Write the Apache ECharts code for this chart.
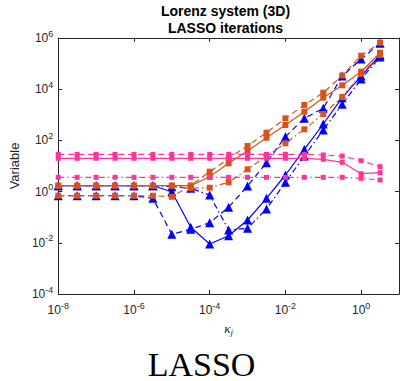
<!DOCTYPE html>
<html>
<head>
<meta charset="utf-8">
<script src="https://cdn.jsdelivr.net/npm/echarts@6/dist/echarts.min.js"></script>
<style>
html,body{margin:0;padding:0;background:#fff;}
#chart{width:403px;height:381px;}
</style>
</head>
<body>
<div id="chart"></div>
<script>
// kappa_j grid (half-decade steps)
const kappa = [1e-8, 3.162e-8, 1e-7, 3.162e-7, 1e-6, 3.162e-6, 1e-5, 3.162e-5, 1e-4, 3.162e-4,
               1e-3, 3.162e-3, 1e-2, 3.162e-2, 1e-1, 3.162e-1, 1, 3.162];

const blueSolid   = [1.7,1.7,1.7,1.7,1.7,1.7,0.99,0.0403,0.00897,0.0189,0.0777,0.547,4.45,44.9,437,4656,32700,216800];
const blueDashed  = [0.69,0.69,0.69,0.69,0.69,0.547,0.0215,0.0337,0.061,0.243,1.65,13.5,139,729,1795,32700,151000,621000];
const blueDashDot = [1.7,1.7,1.7,1.7,1.7,1.7,1.55,1.35,0.736,0.0316,0.0368,0.209,2.31,24.5,255,2570,25000,180700];

const orangeSolid   = [1.7,1.7,1.7,1.7,1.7,1.7,1.7,1.7,3.82,12.7,38.5,127,399,1321,4656,14190,48200,266000];
const orangeDashed  = [0.69,0.69,0.69,0.69,0.69,0.69,0.63,1.7,5.98,20,60.4,200,729,2410,7295,34280,203000,655000];
const orangeDashDot = [1.7,1.7,1.7,1.7,1.7,1.7,1.7,1.35,1.42,2.31,7.43,24.5,76.9,271,1074,4955,39200,216800];

const pinkSolid   = [20,20,20,20,20,20,20,20,20,20,20,20,20,20,18.2,13.9,5.0,5.47];
const pinkDashed  = [28.6,28.6,28.6,28.6,28.6,28.6,28.6,28.6,28.6,28.6,28.6,28.6,28.6,28.6,27,24.5,16.1,9.4];
const pinkDashDot = [3.61,3.61,3.61,3.61,3.61,3.61,3.61,3.61,3.61,3.61,3.61,3.61,3.61,3.61,3.61,3.61,3.3,2.84];

const titleLines = ['Lorenz system (3D)', 'LASSO iterations'];
const yName = 'Variable';
const caption = 'LASSO';

const BLUE = '#0000ff', ORANGE = '#d95319', PINK = '#ff3399';
const DASH = [6, 4], DASHDOT = [6, 3, 1.5, 3];

function mk(values, color, dash, symbol, size) {
  return {
    type: 'line',
    data: kappa.map((k, i) => [k, values[i]]),
    symbol: symbol, symbolSize: size,
    showSymbol: true,
    itemStyle: {color: color},
    lineStyle: {color: color, width: 1.2, type: dash},
    emphasis: {disabled: true},
    animation: false,
    z: 2
  };
}

function supFmt(v) {
  const e = Math.round(Math.log10(v));
  if (e % 2 !== 0) return '';
  return '{b|10}{s|' + e + '}';
}
const rich = {
  b: {fontSize: 12, fontFamily: 'Liberation Sans', color: '#262626'},
  s: {fontSize: 9, fontFamily: 'Liberation Sans', color: '#262626', padding: [0, 0, 9, 0]}
};
const axisCommon = {
  type: 'log', logBase: 10,
  axisLine: {show: true, lineStyle: {color: '#262626', width: 1}},
  axisTick: {show: true, inside: true, length: 4, lineStyle: {color: '#262626'}},
  splitLine: {show: false},
  minorTick: {show: false}
};

const chart = echarts.init(document.getElementById('chart'), null, {renderer: 'svg'});
chart.setOption({
  backgroundColor: '#fff',
  animation: false,
  title: [{
    text: titleLines.join('\n'),
    left: 225.5, top: 2, textAlign: 'center', padding: 0,
    textStyle: {fontFamily: 'Liberation Sans', fontWeight: 'bold', fontSize: 14, color: '#000', lineHeight: 17}
  }],
  grid: {left: 52, right: 4, top: 38, bottom: 87},
  xAxis: [
    Object.assign({}, axisCommon, {
      min: 1e-8, max: 10, interval: 2, position: 'bottom',
      axisLabel: {formatter: supFmt, rich: rich, margin: 7},
      name: '{k|κ}{j|j}', nameLocation: 'middle', nameGap: 26,
      nameTextStyle: {rich: {
        k: {fontSize: 13, fontStyle: 'italic', fontFamily: 'Liberation Serif', color: '#262626'},
        j: {fontSize: 9, fontStyle: 'italic', fontFamily: 'Liberation Serif', color: '#262626', padding: [7, 0, 0, 0]}
      }}
    }),
    Object.assign({}, axisCommon, {
      min: 1e-8, max: 10, interval: 2, position: 'top', axisLabel: {show: false}
    })
  ],
  yAxis: [
    Object.assign({}, axisCommon, {
      min: 1e-4, max: 1e6, interval: 2, position: 'left',
      axisLabel: {formatter: supFmt, rich: rich, margin: 5},
      name: yName, nameLocation: 'middle', nameGap: 34,
      nameTextStyle: {fontFamily: 'Liberation Sans', fontSize: 13, color: '#262626'}
    }),
    Object.assign({}, axisCommon, {
      min: 1e-4, max: 1e6, interval: 2, position: 'right', axisLabel: {show: false}
    })
  ],
  series: [
    mk(blueSolid, BLUE, 'solid', 'triangle', 9),
    mk(blueDashed, BLUE, DASH, 'triangle', 9),
    mk(blueDashDot, BLUE, DASHDOT, 'triangle', 9),
    mk(orangeSolid, ORANGE, 'solid', 'rect', 6),
    mk(orangeDashed, ORANGE, DASH, 'rect', 6),
    mk(orangeDashDot, ORANGE, DASHDOT, 'rect', 6),
    mk(pinkSolid, PINK, 'solid', 'rect', 5),
    mk(pinkDashed, PINK, DASH, 'rect', 5),
    mk(pinkDashDot, PINK, DASHDOT, 'rect', 5)
  ],
  graphic: [{
    type: 'text', left: 'center', top: 347,
    style: {text: caption, font: '34px "Liberation Serif"', fill: '#000'}
  }]
});
</script>
</body>
</html>
